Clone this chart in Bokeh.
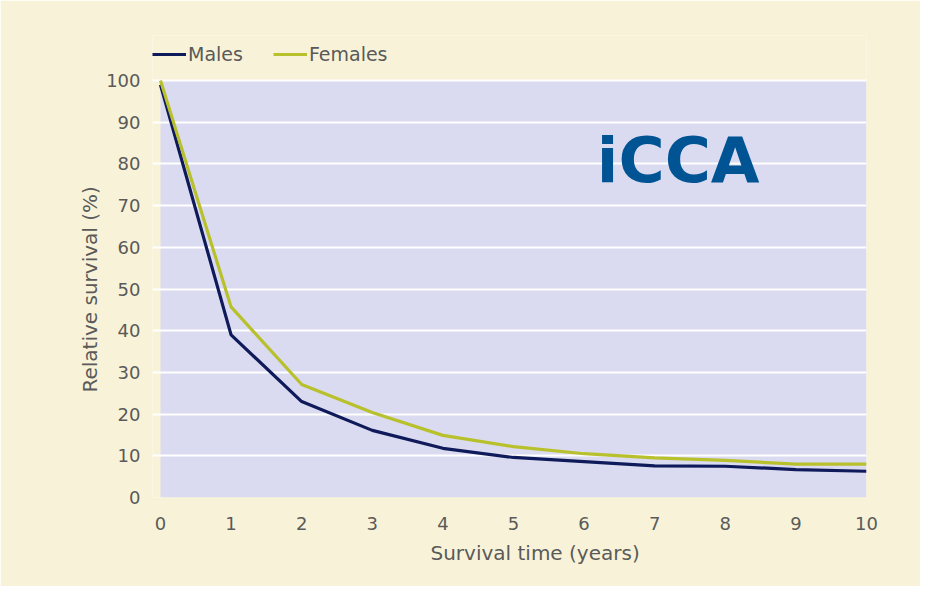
from bokeh.plotting import figure
from bokeh.models import Legend, LegendItem, Label, FixedTicker, BoxAnnotation, Title
from bokeh.embed import file_html
from bokeh.resources import INLINE

years = [0, 1, 2, 3, 4, 5, 6, 7, 8, 9, 10]
males = [99.0, 39.0, 23.0, 16.1, 11.8, 9.6, 8.6, 7.6, 7.5, 6.7, 6.3]
females = [100.0, 45.7, 27.1, 20.4, 14.9, 12.2, 10.5, 9.5, 8.9, 8.0, 8.0]
x_ticks = list(range(0, 11))
y_ticks = list(range(0, 101, 10))

FONT = "DejaVu Sans"
CREAM = "#f8f3d8"
LAV = "#dadbf0"
NAVY = "#0f1a5a"
OLIVE = "#b8c12c"
GREY = "#5a5a5a"

# frame extends a little left of x=0 and above y=100 so the legend can sit there
p = figure(width=920, height=586, output_backend="svg", toolbar_location=None,
           x_range=(-0.113, 10), y_range=(0, 110.8),
           min_border_left=152, min_border_right=54, min_border_top=35, min_border_bottom=89)
p.background_fill_color = CREAM
p.border_fill_color = CREAM
p.outline_line_color = None

# the lavender plot area (0..10 x 0..100)
p.add_layout(BoxAnnotation(left=0, right=10, bottom=0, top=100,
                           fill_color=LAV, fill_alpha=1, line_color=None, level="image"))

p.xgrid.grid_line_color = None
p.ygrid.grid_line_color = "white"
p.ygrid.grid_line_width = 2
p.ygrid.ticker = FixedTicker(ticks=y_ticks)

for ax in (p.xaxis[0], p.yaxis[0]):
    ax.axis_line_color = None
    ax.major_tick_line_color = None
    ax.minor_tick_line_color = None
    ax.major_tick_out = 0
    ax.major_tick_in = 0
    ax.major_label_text_font = FONT
    ax.major_label_text_font_size = "18px"
    ax.major_label_text_color = GREY

p.xaxis.ticker = FixedTicker(ticks=x_ticks)
p.yaxis.ticker = FixedTicker(ticks=y_ticks)
p.xaxis.major_label_standoff = 19
p.yaxis.major_label_standoff = 12

# axis titles (placed as side-panel titles so they can sit off-centre as in the original)
xt = Title(text="Survival time (years)", align="left", offset=278, standoff=13,
           text_font=FONT, text_font_size="20px", text_font_style="normal", text_color=GREY)
yt = Title(text="Relative survival (%)", align="left", offset=105, standoff=4,
           text_font=FONT, text_font_size="20px", text_font_style="normal", text_color=GREY)
p.add_layout(xt, "below")
p.add_layout(yt, "left")

rm = p.line(years, males, line_color=NAVY, line_width=3.2)
rf = p.line(years, females, line_color=OLIVE, line_width=3.2)

legend = Legend(items=[LegendItem(label="Males", renderers=[rm]),
                       LegendItem(label="Females", renderers=[rf])],
                orientation="horizontal", location=(0, 432),
                background_fill_alpha=0, border_line_alpha=0,
                padding=0, margin=0, spacing=30, label_standoff=2,
                glyph_width=34, glyph_height=20, label_height=20,
                label_text_font=FONT, label_text_font_size="19px",
                label_text_color=GREY)
p.add_layout(legend, "center")

title = Label(x=6.18, y=80.8, text="iCCA", text_font=FONT, text_font_size="63px",
              text_font_style="bold", text_color="#005494", text_baseline="alphabetic")
p.add_layout(title)

open("out.html", "w").write(file_html(p, INLINE))
